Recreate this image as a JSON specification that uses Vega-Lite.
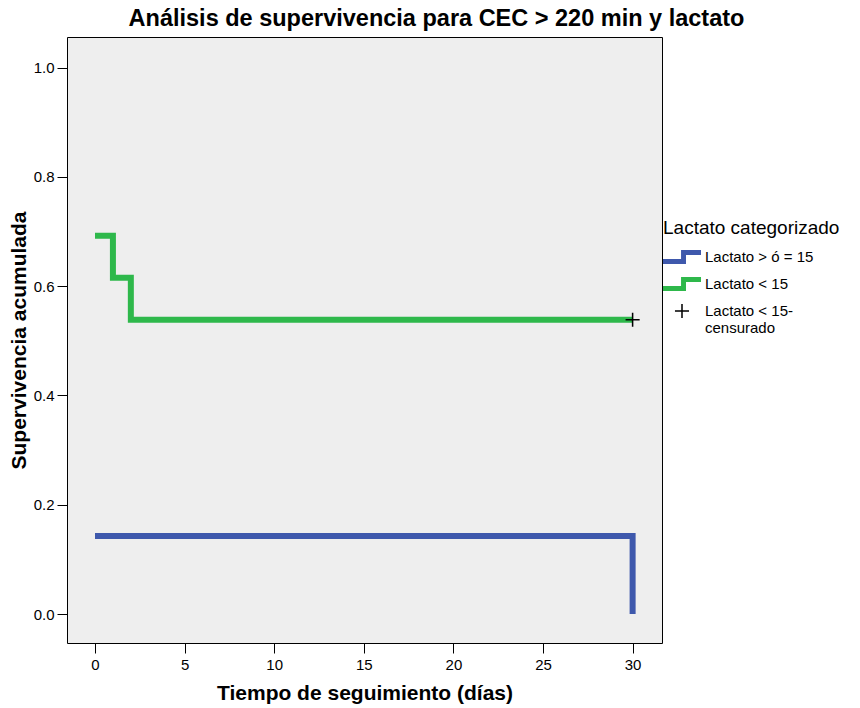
{
  "$schema": "https://vega.github.io/schema/vega-lite/v6.json",
  "width": 595,
  "height": 606,
  "autosize": {"type": "none"},
  "padding": {"left": 67, "top": 37, "right": 198, "bottom": 65},
  "background": "white",
  "title": {
    "text": "Análisis de supervivencia para CEC > 220 min y lactato",
    "font": "Liberation Sans",
    "fontSize": 23.5,
    "fontWeight": "bold",
    "color": "black",
    "anchor": "middle",
    "dx": 72,
    "offset": 7
  },
  "config": {
    "view": {"fill": "#eeeeee", "stroke": "black", "strokeWidth": 1},
    "font": "Liberation Sans",
    "axis": {
      "domain": false,
      "grid": false,
      "tickColor": "black",
      "tickSize": 10,
      "tickWidth": 1,
      "labelFont": "Liberation Sans",
      "labelFontSize": 15,
      "labelColor": "black",
      "titleFont": "Liberation Sans",
      "titleFontSize": 21,
      "titleFontWeight": "bold",
      "titleColor": "black"
    },
    "legend": {
      "titleFont": "Liberation Sans",
      "titleFontSize": 19,
      "titleFontWeight": "normal",
      "titleColor": "black",
      "labelFont": "Liberation Sans",
      "labelFontSize": 15,
      "labelColor": "black"
    }
  },
  "datasets": {
    "curves": [
      {"grp": "Lactato > ó = 15", "t": 0, "s": 0.1429, "o": 1},
      {"grp": "Lactato > ó = 15", "t": 30, "s": 0.1429, "o": 2},
      {"grp": "Lactato > ó = 15", "t": 30, "s": 0.0, "o": 3},
      {"grp": "Lactato < 15", "t": 0, "s": 0.6923, "o": 1},
      {"grp": "Lactato < 15", "t": 1, "s": 0.6154, "o": 2},
      {"grp": "Lactato < 15", "t": 2, "s": 0.5385, "o": 3},
      {"grp": "Lactato < 15", "t": 30, "s": 0.5385, "o": 4}
    ],
    "censored": [
      {"grp": "Lactato < 15-censurado", "t": 30, "s": 0.5385}
    ]
  },
  "layer": [
    {
      "data": {"name": "curves"},
      "transform": [{"filter": "datum.grp == 'Lactato > ó = 15'"}],
      "mark": {"type": "line", "interpolate": "step-after", "strokeWidth": 6, "strokeJoin": "miter", "strokeCap": "butt", "color": "#3e58ac"},
      "encoding": {
        "x": {
          "field": "t", "type": "quantitative",
          "scale": {"domain": [-1.5625, 31.64], "nice": false, "zero": false},
          "axis": {"values": [0, 5, 10, 15, 20, 25, 30], "title": "Tiempo de seguimiento (días)", "titlePadding": 10, "labelPadding": 4}
        },
        "y": {
          "field": "s", "type": "quantitative",
          "scale": {"domain": [-0.053, 1.056], "nice": false, "zero": false},
          "axis": {"values": [0, 0.2, 0.4, 0.6, 0.8, 1.0], "format": ".1f", "title": "Supervivencia acumulada", "titlePadding": 4, "labelPadding": 3}
        },
        "order": {"field": "o", "type": "quantitative"}
      }
    },
    {
      "data": {"name": "curves"},
      "transform": [{"filter": "datum.grp == 'Lactato < 15'"}],
      "mark": {"type": "line", "interpolate": "step-after", "strokeWidth": 6, "strokeJoin": "miter", "strokeCap": "butt", "color": "#2eb84b"},
      "encoding": {
        "x": {"field": "t", "type": "quantitative"},
        "y": {"field": "s", "type": "quantitative"},
        "order": {"field": "o", "type": "quantitative"}
      }
    },
    {
      "data": {"name": "censored"},
      "mark": {"type": "point", "filled": true, "opacity": 1, "strokeWidth": 0},
      "encoding": {
        "x": {"field": "t", "type": "quantitative"},
        "y": {"field": "s", "type": "quantitative"},
        "size": {"value": 1444},
        "color": {
          "field": "grp", "type": "nominal",
          "scale": {
            "domain": ["Lactato > ó = 15", "Lactato < 15", "Lactato < 15-censurado"],
            "range": ["#3e58ac", "#2eb84b", "black"]
          },
          "legend": {
            "title": "Lactato categorizado",
            "orient": "none",
            "legendX": 596,
            "legendY": 182,
            "titlePadding": 0,
            "rowPadding": -6,
            "symbolSize": 1444,
            "symbolStrokeWidth": 0,
            "labelLineHeight": 14,
            "labelExpr": "datum.label == 'Lactato < 15-censurado' ? ['Lactato < 15-', 'censurado'] : datum.label"
          }
        },
        "shape": {
          "field": "grp", "type": "nominal",
          "scale": {
            "domain": ["Lactato > ó = 15", "Lactato < 15", "Lactato < 15-censurado"],
            "range": [
              "M-1,0.11L-0.05,0.11L-0.05,-0.37L1,-0.37L1,-0.11L0.21,-0.11L0.21,0.37L-1,0.37Z",
              "M-1,0.11L-0.05,0.11L-0.05,-0.37L1,-0.37L1,-0.11L0.21,-0.11L0.21,0.37L-1,0.37Z",
              "M-0.37,-0.04L-0.04,-0.04L-0.04,-0.37L0.04,-0.37L0.04,-0.04L0.37,-0.04L0.37,0.04L0.04,0.04L0.04,0.37L-0.04,0.37L-0.04,0.04L-0.37,0.04Z"
            ]
          },
          "legend": {
            "title": "Lactato categorizado",
            "orient": "none",
            "legendX": 596,
            "legendY": 182,
            "titlePadding": 0,
            "rowPadding": -6,
            "symbolSize": 1444,
            "symbolStrokeWidth": 0,
            "labelLineHeight": 14,
            "labelExpr": "datum.label == 'Lactato < 15-censurado' ? ['Lactato < 15-', 'censurado'] : datum.label"
          }
        }
      }
    }
  ]
}
